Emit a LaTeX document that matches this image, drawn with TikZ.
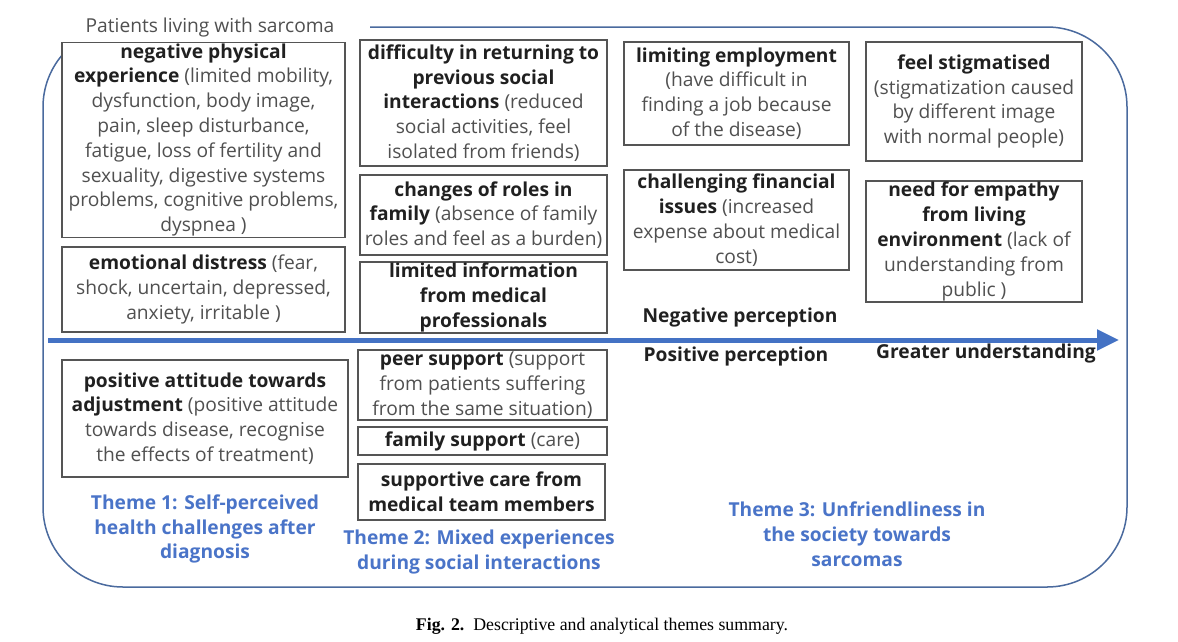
\documentclass[tikz,border=0pt]{standalone}
\usepackage{fontspec}
\setmainfont{Open Sans}
\newfontfamily\capfont{Liberation Serif}
\usetikzlibrary{arrows.meta}
\definecolor{boxgray}{HTML}{555555}
\definecolor{txtgray}{HTML}{505050}
\definecolor{boldtxt}{HTML}{202020}
\definecolor{outlineblue}{HTML}{4A6A9E}
\definecolor{arrowblue}{HTML}{4472C4}
\definecolor{themeblue}{HTML}{4A74C8}
\newcommand{\bt}[1]{\textbf{\color{boldtxt}#1}}
\begin{document}
\begin{tikzpicture}[x=1pt,y=-1pt,
  box/.style={draw=boxgray, line width=1.3pt, fill=white, align=center, inner sep=0pt, text=txtgray, font=\fontsize{19.2}{24.8}\selectfont},
  lbl/.style={align=center, inner sep=0pt, text=boldtxt, font=\fontsize{19.2}{24.8}\selectfont\bfseries},
  theme/.style={align=center, inner sep=0pt, text=themeblue, font=\fontsize{19.2}{24.8}\selectfont\bfseries},
  outline/.style={draw=outlineblue, line width=1.5pt},
  axisarrow/.style={draw=arrowblue, line width=5pt, -{Triangle[length=22pt,width=20pt]}}]
\useasboundingbox (0,0) rectangle (1178,641);
\fill[white] (0,0) rectangle (1178,641);
% outline
\draw[outline] (370,27) -- (1047,27) arc[start angle=270, end angle=360, radius=80]
  -- (1127,507) arc[start angle=0, end angle=90, radius=80]
  -- (123,587) arc[start angle=90, end angle=180, radius=80]
  -- (43,107) arc[start angle=180, end angle=220.3, radius=80];
\node[inner sep=0pt, text=txtgray, font=\fontsize{19.2}{24.8}\selectfont] (title) at (210,28) {Patients living with sarcoma};
% negative boxes
\node[box, minimum width=283pt, minimum height=195pt] (a) at (203.5,140) {\bt{negative physical}\\\bt{experience} (limited mobility,\\dysfunction, body image,\\pain, sleep disturbance,\\fatigue, loss of fertility and\\sexuality, digestive systems\\problems, cognitive problems,\\dyspnea )};
\node[box, minimum width=283pt, minimum height=85pt] (b) at (203.5,289.5) {\bt{emotional distress} (fear,\\shock, uncertain, depressed,\\anxiety, irritable )};
\node[box, minimum width=247pt, minimum height=126pt] (c) at (483.5,103) {\bt{difficulty in returning to}\\\bt{previous social}\\\bt{interactions} (reduced\\social activities, feel\\isolated from friends)};
\node[box, minimum width=247pt, minimum height=80pt] (d) at (483.5,215) {\bt{changes of roles in}\\\bt{family} (absence of family\\roles and feel as a burden)};
\node[box, minimum width=247pt, minimum height=71pt] (e) at (483.5,297.5) {\bt{limited information}\\\bt{from medical}\\\bt{professionals}};
\node[box, minimum width=225pt, minimum height=103pt] (f) at (736.5,93.5) {\bt{limiting employment}\\(have difficult in\\finding a job because\\of the disease)};
\node[box, minimum width=225pt, minimum height=100pt] (g) at (736.5,220) {\bt{challenging financial}\\\bt{issues} (increased\\expense about medical\\cost)};
\node[box, minimum width=216pt, minimum height=119pt] (h) at (974,101.5) {\bt{feel stigmatised}\\(stigmatization caused\\by different image\\with normal people)};
\node[box, minimum width=216pt, minimum height=121pt] (i) at (974,241.5) {\bt{need for empathy}\\\bt{from living}\\\bt{environment} (lack of\\understanding from\\public )};
% axis
\coordinate (axs) at (48,340);
\coordinate (axe) at (1119,340);
\draw[axisarrow] (axs) -- (axe);
\node[lbl] (neg) at (740,318) {Negative perception};
\node[lbl] (pos) at (736,357) {Positive perception};
\node[lbl] (gu) at (986,354) {Greater understanding};
% positive boxes
\node[box, minimum width=286pt, minimum height=117pt] (j) at (205,418.5) {\bt{positive attitude towards}\\\bt{adjustment} (positive attitude\\towards disease, recognise\\the effects of treatment)};
\node[box, minimum width=249pt, minimum height=70pt] (k) at (482.5,385) {\bt{peer support} (support\\from patients suffering\\from the same situation)};
\node[box, minimum width=249pt, minimum height=28pt] (l) at (482.5,441) {\bt{family support} (care)};
\node[box, minimum width=247pt, minimum height=56pt] (m) at (481.5,492) {\bt{supportive care from}\\\bt{medical team members}};
% themes
\node[theme] (t1) at (205,529) {Theme 1: Self-perceived\\health challenges after\\diagnosis};
\node[theme] (t2) at (479,552) {Theme 2: Mixed experiences\\during social interactions};
\node[theme] (t3) at (857,534) {Theme 3: Unfriendliness in\\the society towards\\sarcomas};
% caption
\node[inner sep=0pt, font=\capfont\fontsize{17.8}{21}\selectfont] (cap) at (602,626) {\textbf{Fig. 2.}\enspace Descriptive and analytical themes summary.};
\end{tikzpicture}
\end{document}
